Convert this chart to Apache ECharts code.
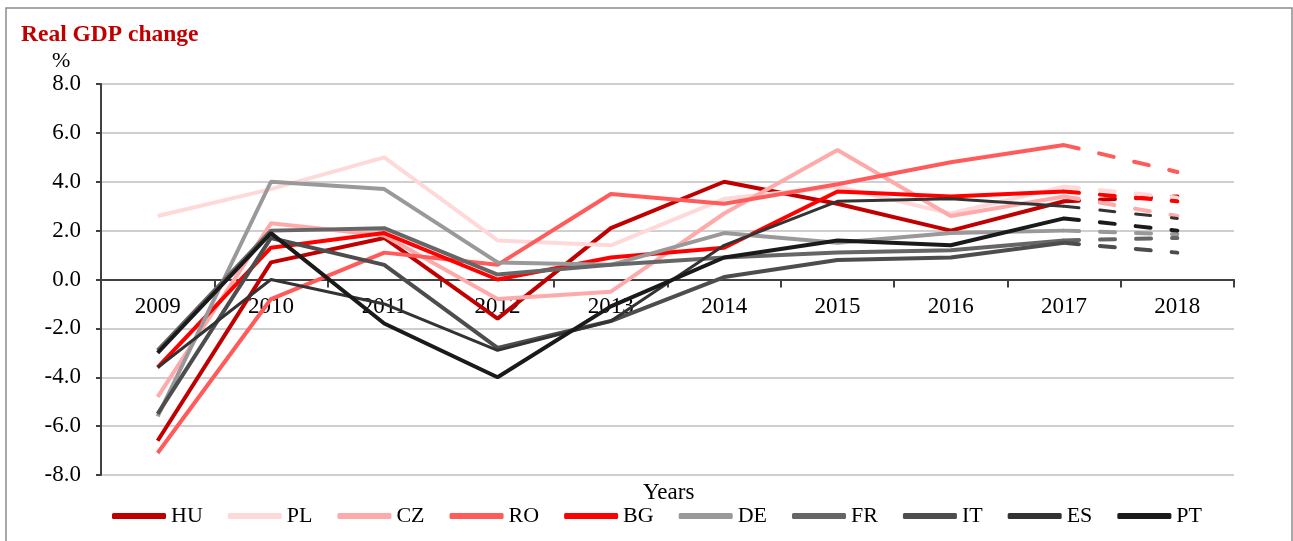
<!DOCTYPE html>
<html lang="en">
<head>
    <meta charset="UTF-8">
    <title>Real GDP change</title>
    <script type="text/javascript" src="https://cdn.jsdelivr.net/npm/echarts@6/dist/echarts.min.js"></script>
    <style>
        body { margin: 0; background: #fff; }
    </style>
</head>
<body>
<div id="chart" style="width: 1293px;height:541px;"></div>
<script>
    // years on the x axis
    var years = ['2009', '2010', '2011', '2012', '2013', '2014', '2015', '2016', '2017', '2018'];

    // real GDP change, %  (2018 drawn dashed)
    var HU = [-6.6, 0.7, 1.7, -1.6, 2.1, 4.0, 3.1, 2.0, 3.2, 3.4];
    var PL = [2.6, 3.7, 5.0, 1.6, 1.4, 3.3, 3.8, 2.7, 3.8, 3.35];
    var CZ = [-4.8, 2.3, 1.8, -0.8, -0.5, 2.7, 5.3, 2.6, 3.4, 2.6];
    var RO = [-7.1, -0.8, 1.1, 0.6, 3.5, 3.1, 3.9, 4.8, 5.5, 4.4];
    var BG = [-3.6, 1.3, 1.9, 0.0, 0.9, 1.3, 3.6, 3.4, 3.6, 3.2];
    var DE = [-5.6, 4.0, 3.7, 0.7, 0.6, 1.9, 1.5, 1.9, 2.0, 1.85];
    var FR = [-2.9, 2.0, 2.1, 0.2, 0.6, 0.9, 1.1, 1.2, 1.6, 1.7];
    var IT = [-5.5, 1.7, 0.6, -2.8, -1.7, 0.1, 0.8, 0.9, 1.5, 1.1];
    var ES = [-3.6, 0.0, -1.0, -2.9, -1.7, 1.4, 3.2, 3.3, 3.0, 2.5];
    var PT = [-3.0, 1.9, -1.8, -4.0, -1.1, 0.9, 1.6, 1.4, 2.5, 2.0];

    var countries = ['HU', 'PL', 'CZ', 'RO', 'BG', 'DE', 'FR', 'IT', 'ES', 'PT'];
    var values = [HU, PL, CZ, RO, BG, DE, FR, IT, ES, PT];
    var colors = ['#C00000', '#FFD9D9', '#FFAAAA', '#FF5B5B', '#FF0000',
                  '#999999', '#666666', '#4D4D4D', '#333333', '#1A1A1A'];
    var widths = [4, 4, 4, 4, 4, 4, 4, 4, 3, 4];

    var font = "'Liberation Serif', 'Times New Roman', serif";
    var last = years.length - 1;

    var solid = [];
    var dashed = [];
    countries.forEach(function (c, i) {
        solid.push({
            name: c,
            type: 'line',
            symbol: 'none',
            color: colors[i],
            lineStyle: {width: widths[i], color: colors[i]},
            data: values[i].map(function (v, k) { return k < last ? v : null; })
        });
        dashed.push({
            name: c,
            type: 'line',
            symbol: 'none',
            color: colors[i],
            lineStyle: {width: widths[i], color: colors[i], type: [15, 21], cap: 'round'},
            data: values[i].map(function (v, k) { return k >= last - 1 ? v : null; })
        });
    });

    var option = {
        animation: false,
        title: {
            text: 'Real GDP change',
            left: 16,
            top: 18,
            textStyle: {fontFamily: font, fontSize: 23.5, fontWeight: 'bold', color: '#C00000'}
        },
        grid: {left: 101, right: 59, top: 84, bottom: 66},
        legend: {
            data: countries,
            left: 112,
            top: 505,
            padding: 0,
            icon: 'roundRect',
            itemWidth: 54,
            itemHeight: 6,
            itemGap: 25,
            selectedMode: false,
            textStyle: {fontFamily: font, fontSize: 22, color: '#000'}
        },
        xAxis: {
            type: 'category',
            data: years,
            // the axis sits on the zero line: half the grid height above the bottom
            offset: -195.5,
            axisLine: {onZero: false, lineStyle: {color: '#404040', width: 2}},
            axisTick: {show: true, length: 8, lineStyle: {color: '#404040', width: 2}},
            axisLabel: {fontFamily: font, fontSize: 23, color: '#000', margin: 16},
            splitLine: {show: false}
        },
        yAxis: {
            type: 'value',
            min: -8,
            max: 8,
            interval: 2,
            axisLine: {show: true, lineStyle: {color: '#404040', width: 2}},
            axisTick: {show: true, length: 5, lineStyle: {color: '#404040', width: 2}},
            axisLabel: {
                fontFamily: font, fontSize: 23, color: '#000', margin: 20,
                formatter: function (v) { return v.toFixed(1); }
            },
            splitLine: {lineStyle: {color: '#BFBFBF', width: 1.5}}
        },
        graphic: [
            {
                type: 'rect',
                shape: {x: 6, y: 8, width: 1286, height: 600},
                style: {fill: 'none', stroke: '#8C8C8C', lineWidth: 1.5},
                silent: true
            },
            {
                type: 'text',
                left: 52,
                top: 50,
                style: {text: '%', font: '22px ' + font, fill: '#000'}
            },
            {
                type: 'text',
                left: 643,
                top: 481,
                style: {text: 'Years', font: '23px ' + font, fill: '#000'}
            }
        ],
        series: solid.concat(dashed)
    };

    var myChart = echarts.init(document.getElementById('chart'));
    myChart.setOption(option);
</script>
</body>
</html>
